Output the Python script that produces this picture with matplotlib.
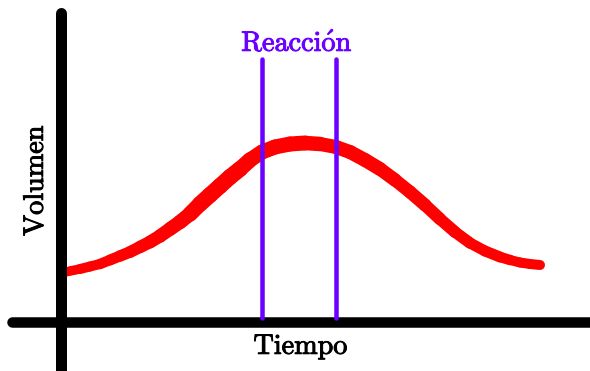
import numpy as np
import matplotlib
import matplotlib.pyplot as plt
import matplotlib.patheffects as pe
from matplotlib.collections import LineCollection

matplotlib.rcParams['mathtext.fontset'] = 'cm'

# Canvas is laid out in pixel units (x to the right, y downward)
W, H, DPI = 590, 371, 100
PX = 72.0 / DPI   # points per pixel

# red curve: centre line and thickness
curve_x = [63, 70, 80, 90, 100, 110, 120, 130, 140, 150, 160, 170, 180,
           190, 200, 210, 220, 230, 240, 250, 262, 275, 290, 305, 320,
           336, 350, 365, 380, 395, 410, 425, 440, 455, 470, 485, 500,
           510, 520, 530, 540]
curve_y = [273, 271, 269, 266.5, 264, 260, 256, 252, 247, 242, 236, 229,
           222, 214, 204, 195, 186, 177, 169, 160, 152, 147, 144, 143,
           144, 147, 152, 160, 169, 180, 192, 205, 219, 232, 243, 251,
           257, 260, 262.5, 264, 265]
curve_w = [9, 9, 10, 10, 10, 11, 11, 12, 12, 13, 13, 14, 14,
           15, 16, 16, 16, 16, 16, 15, 15, 15, 15, 15, 14,
           14, 14, 14, 14, 13, 13, 13, 12, 12, 11, 11, 11,
           10, 10, 10, 10]

# reaction window (vertical purple lines)
reaction_x = [262, 336]
reaction_top, reaction_bottom = 59, 318

fig = plt.figure(figsize=(W / DPI, H / DPI), dpi=DPI)
ax = fig.add_axes([0, 0, 1, 1])
ax.set_xlim(0, W)
ax.set_ylim(H, 0)
ax.axis('off')

# axes drawn as thick black strokes
ax.plot([61, 61], [13, H + 10], color='black', lw=11 * PX,
        solid_capstyle='round', zorder=3)
ax.plot([12, W + 10], [321.5, 321.5], color='black', lw=10.5 * PX,
        solid_capstyle='round', zorder=3)

# red curve with varying thickness
pts = np.column_stack([curve_x, curve_y]).reshape(-1, 1, 2)
segs = np.concatenate([pts[:-1], pts[1:]], axis=1)
widths = [(a + b) / 2 * PX for a, b in zip(curve_w[:-1], curve_w[1:])]
lc = LineCollection(segs, colors='#ff0000', linewidths=widths,
                    capstyle='round', joinstyle='round', zorder=2)
ax.add_collection(lc)

# reaction lines
for xr in reaction_x:
    ax.plot([xr, xr], [reaction_top, reaction_bottom], color='#6a00ff',
            lw=4.5 * PX, solid_capstyle='round', zorder=4)

# slightly heavier lettering, like the reference
def heavy(c):
    return [pe.withStroke(linewidth=0.7, foreground=c)]

ax.text(297, 43, r'$\mathrm{Reacci\acute{o}n}$', color='#6a00ff',
        fontsize=20.3, ha='center', va='center', path_effects=heavy('#6a00ff'))
ax.text(301, 347, r'$\mathrm{Tiempo}$', color='black',
        fontsize=20.3, ha='center', va='center', path_effects=heavy('black'))
ax.text(35, 180, r'$\mathrm{Volumen}$', color='black', rotation=90,
        fontsize=20.3, ha='center', va='center', path_effects=heavy('black'))

fig.savefig('out.png', dpi=DPI)
